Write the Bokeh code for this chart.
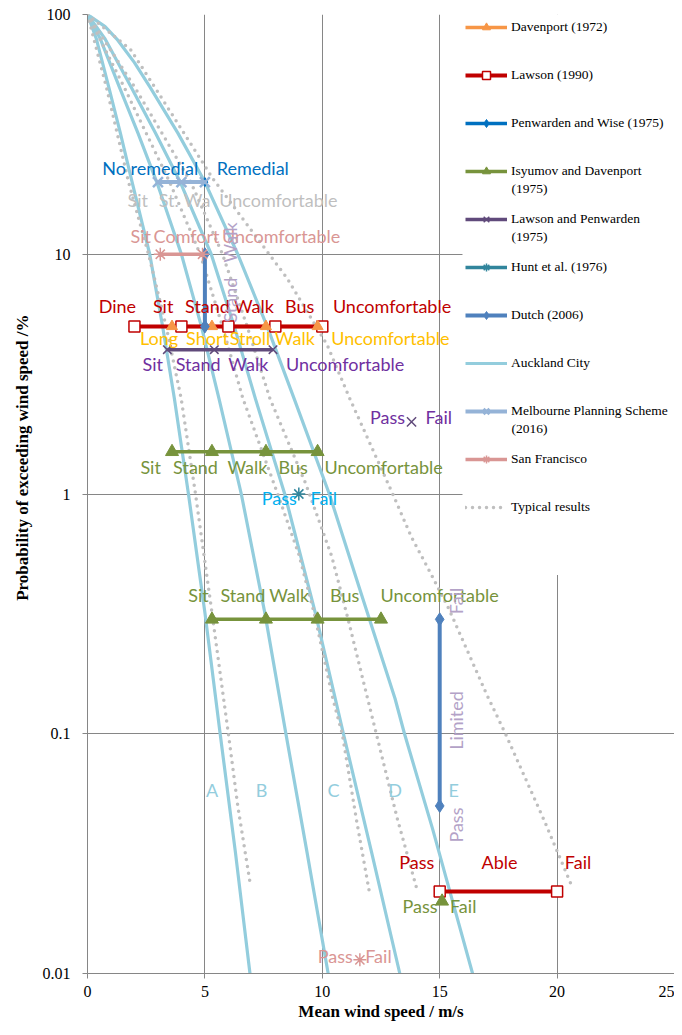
import math
from bokeh.plotting import figure
from bokeh.models import Range1d, FixedTicker, Legend, LegendItem, Label, BoxAnnotation, Title
from bokeh.core.properties import value
from bokeh.embed import file_html
from bokeh.resources import INLINE

# ---------------- data ----------------
x_ticks = [0, 5, 10, 15, 20, 25]
y_ticks = [0.01, 0.1, 1, 10, 100]
y_tick_labels = ["0.01", "0.1", "1", "10", "100"]

# Auckland City category boundaries (probability of exceedance %, mean wind speed m/s)
auck_p = [100, 79, 50, 32, 20, 10, 5, 2.5, 1, 0.32, 0.1, 0.032, 0.01]
auck1_x = [0, 0.38, 0.9, 1.4, 1.9, 2.65, 3.2, 3.7, 4.3, 5.0, 5.65, 6.3, 6.92]
auck2_x = [0, 0.55, 1.35, 2.15, 2.95, 4.0, 4.85, 5.6, 6.55, 7.55, 8.45, 9.35, 10.25]
auck3_x = [0, 0.75, 1.85, 2.9, 3.95, 5.27, 6.25, 7.15, 8.4, 9.7, 10.9, 12.1, 13.3]
auck4_p = [100, 89, 79, 63, 50, 32, 20, 10, 5, 2.5, 1, 0.4, 0.14, 0.1, 0.04, 0.02, 0.01]
auck4_x = [0, 0.75, 1.25, 2.0, 2.65, 3.85, 5.0, 6.4, 7.65, 8.8, 10.3, 11.6, 13.1, 13.5, 14.7, 15.55, 16.4]
auck_names = ["A", "B", "C", "D", "E"]

# Typical results
typ1_p = [100, 50, 20, 10, 5, 2.5, 1, 0.32, 0.144, 0.1, 0.05, 0.024]
typ1_x = [0, 0.8, 1.75, 2.6, 3.35, 3.99, 4.6, 5.3, 5.78, 6.0, 6.4, 6.92]
typ2_p = [100, 50, 20, 10, 5, 2.5, 1, 0.56, 0.32, 0.14, 0.1, 0.044, 0.022]
typ2_x = [0, 1.55, 3.5, 4.8, 5.75, 6.62, 8.1, 9.0, 9.65, 10.45, 10.85, 11.45, 12.0]
typ3_p = [100, 50, 20, 10, 5, 2.5, 1.1, 0.55, 0.3, 0.144, 0.1, 0.044, 0.023]
typ3_x = [0, 2.0, 4.4, 5.75, 6.8, 7.77, 9.3, 10.4, 11.1, 11.9, 12.3, 13.2, 14.0]
typ4_p = [100, 71.5, 50, 20.6, 9.9, 7.95, 4.2, 2.5, 1, 0.66, 0.45, 0.33, 0.146, 0.1, 0.0435, 0.0235]
typ4_x = [0, 1.83, 2.85, 5.35, 7.77, 8.5, 10.2, 11.17, 13.0, 13.8, 14.7, 15.4, 17.0, 17.8, 19.45, 20.6]

# Criteria
dav_x = [3.6, 5.3, 7.6, 9.8]
dav_p = [5, 5, 5, 5]
dav_labels = ["Long", "Short", "Stroll", "Walk", "Uncomfortable"]

law_x = [2, 4, 6, 8, 10]
law_p = [5, 5, 5, 5, 5]
law_labels = ["Dine", "Sit", "Stand", "Walk", "Bus", "Uncomfortable"]
law2_x = [15, 20]
law2_p = [0.022, 0.022]
law2_labels = ["Pass", "Able", "Fail"]

pw_x = [5]
pw_p = [20]
pw_labels = ["No remedial", "Remedial"]

isy1_x = [3.6, 5.3, 7.6, 9.8]
isy1_p = [1.5, 1.5, 1.5, 1.5]
isy1_labels = ["Sit", "Stand", "Walk", "Bus", "Uncomfortable"]
isy2_x = [5.3, 7.6, 9.8, 12.5]
isy2_p = [0.3, 0.3, 0.3, 0.3]
isy2_labels = ["Sit", "Stand", "Walk", "Bus", "Uncomfortable"]
isy3_x = [15.1]
isy3_p = [0.02]
isy3_labels = ["Pass", "Fail"]

lp_x = [3.4, 5.4, 7.9]
lp_p = [4, 4, 4]
lp_labels = ["Sit", "Stand", "Walk", "Uncomfortable"]
lp2_x = [13.8]
lp2_p = [2]
lp2_labels = ["Pass", "Fail"]

hunt_x = [9]
hunt_p = [1]
hunt_labels = ["Pass", "Fail"]

dutch1_x = [5, 5]
dutch1_p = [10, 5]
dutch1_labels = ["Stand", "Walk"]
dutch2_x = [15, 15]
dutch2_p = [0.3, 0.05]
dutch2_labels = ["Pass", "Limited", "Fail"]

melb_x = [3, 4, 5]
melb_p = [20, 20, 20]
melb_labels = ["Sit", "St.", "Wa", "Uncomfortable"]

sf_x = [3.1, 4.9]
sf_p = [10, 10]
sf_labels = ["Sit", "Comfort", "Uncomfortable"]
sf2_x = [11.6]
sf2_p = [0.0114]
sf2_labels = ["Pass", "Fail"]

legend_names = ["Davenport (1972)", "Lawson (1990)", "Penwarden and Wise (1975)",
                "Isyumov and Davenport", "Lawson and Penwarden", "Hunt et al. (1976)",
                "Dutch (2006)", "Auckland City", "Melbourne Planning Scheme",
                "San Francisco", "Typical results"]
legend_second_lines = ["(1975)", "(1975)", "(2016)"]

# ---------------- style ----------------
SERIF = "Liberation Serif"
ANN = "Lato"
ANN_SIZE = "18px"
GRID = "#868686"
W, H = 674, 1027
BL, BT, BB = 87, 14, 54          # borders left / top / bottom
FRAME_BOTTOM = H - BB

p = figure(width=W, height=H, x_range=Range1d(0, 25), y_range=Range1d(0.01, 100),
           y_axis_type="log", output_backend="svg", toolbar_location=None,
           min_border_left=BL, min_border_top=BT, min_border_right=0, min_border_bottom=BB)
p.outline_line_color = None
p.background_fill_color = "white"

p.xaxis.ticker = FixedTicker(ticks=x_ticks)
p.yaxis.ticker = FixedTicker(ticks=y_ticks)
p.xgrid.ticker = FixedTicker(ticks=x_ticks)
p.ygrid.ticker = FixedTicker(ticks=y_ticks)
p.yaxis.major_label_overrides = {t: s for t, s in zip(y_ticks, y_tick_labels)}
for g in (p.xgrid, p.ygrid):
    g.grid_line_color = GRID
    g.grid_line_width = 1
for ax in (p.xaxis, p.yaxis):
    ax.axis_line_color = GRID
    ax.major_tick_line_color = GRID
    ax.major_tick_out = 5
    ax.major_tick_in = 0
    ax.minor_tick_line_color = None
    ax.major_label_text_font = SERIF
    ax.major_label_text_font_size = "16px"
    ax.major_label_text_color = "black"
p.yaxis.major_label_standoff = 12
p.xaxis.major_label_standoff = 7
p.xaxis.axis_label = "Mean wind speed / m/s"
p.xaxis.axis_label_text_font = SERIF
p.xaxis.axis_label_text_font_style = "bold"
p.xaxis.axis_label_text_font_size = "17px"
p.xaxis.axis_label_text_color = "black"
p.xaxis.axis_label_standoff = 2

# y axis title, placed as a side title so that it can be shifted along the axis
p.add_layout(Title(text="Probability of exceeding wind speed /%", align="right", offset=300,
                   vertical_align="bottom", standoff=16, text_font=SERIF, text_font_style="bold",
                   text_font_size="17px", text_color="black"), "left")

# ---------------- curves ----------------
AUCK = "#93CDDD"
auck_r = None
for xs, ps in ((auck1_x, auck_p), (auck2_x, auck_p), (auck3_x, auck_p), (auck4_x, auck4_p)):
    r = p.line(xs, ps, line_color=AUCK, line_width=3.2, line_join="round")
    auck_r = auck_r or r

TYP = "#BFBFBF"
typ_r = None
for xs, ps in ((typ1_x, typ1_p), (typ2_x, typ2_p), (typ3_x, typ3_p), (typ4_x, typ4_p)):
    r = p.line(xs, ps, line_color=TYP, line_width=3.5, line_dash="0 7", line_cap="round")
    typ_r = typ_r or r

# Davenport
dav_l = p.line(dav_x, dav_p, line_color="#F79646", line_width=3.5)
# Lawson
law_l = p.line(law_x, law_p, line_color="#C00000", line_width=4)
law2_l = p.line(law2_x, law2_p, line_color="#C00000", line_width=4)
law_m = p.scatter(law_x, law_p, marker="square", size=11, fill_color="white", line_color="#C00000", line_width=1.5)
p.scatter(law2_x, law2_p, marker="square", size=11, fill_color="white", line_color="#C00000", line_width=1.5)
dav_m = p.scatter(dav_x, dav_p, marker="triangle", size=11, fill_color="#F79646", line_color="#F79646")
# Penwarden and Wise
pw_l = p.line(pw_x, pw_p, line_color="#0070C0", line_width=3.5)
pw_m = p.scatter(pw_x, pw_p, marker="diamond", size=9, fill_color="#0070C0", line_color="#0070C0")
# Isyumov and Davenport
isy_l = p.line(isy1_x, isy1_p, line_color="#77933C", line_width=3.5)
p.line(isy2_x, isy2_p, line_color="#77933C", line_width=3.5)
isy_m = p.scatter(isy1_x, isy1_p, marker="triangle", size=13, fill_color="#77933C", line_color="#77933C")
p.scatter(isy2_x, isy2_p, marker="triangle", size=13, fill_color="#77933C", line_color="#77933C")
p.scatter(isy3_x, isy3_p, marker="triangle", size=13, fill_color="#77933C", line_color="#77933C")
# Lawson and Penwarden
lp_l = p.line(lp_x, lp_p, line_color="#604A7B", line_width=3.5)
lp_m = p.scatter(lp_x, lp_p, marker="x", size=12, line_color="#604A7B", line_width=1.5)
p.scatter(lp2_x, lp2_p, marker="x", size=13, line_color="#604A7B", line_width=1.5)
# Hunt et al.
hunt_l = p.line(hunt_x, hunt_p, line_color="#31859C", line_width=3.5)
hunt_m = p.scatter(hunt_x, hunt_p, marker="asterisk", size=13, line_color="#31859C", line_width=1.5)
# Dutch
dutch_l = p.line(dutch1_x, dutch1_p, line_color="#4F81BD", line_width=4)
p.line(dutch2_x, dutch2_p, line_color="#4F81BD", line_width=4)
dutch_m = p.scatter(dutch1_x, dutch1_p, marker="diamond", size=13, fill_color="#4F81BD", line_color="#4F81BD")
p.scatter(dutch2_x, dutch2_p, marker="diamond", size=13, fill_color="#4F81BD", line_color="#4F81BD")
# Melbourne
melb_l = p.line(melb_x, melb_p, line_color="#95B3D7", line_width=4)
melb_m = p.scatter(melb_x, melb_p, marker="x", size=14, line_color="#95B3D7", line_width=2.5)
# San Francisco
sf_l = p.line(sf_x, sf_p, line_color="#D99694", line_width=3.5)
sf_m = p.scatter(sf_x, sf_p, marker="asterisk", size=13, line_color="#D99694", line_width=1.5)
p.scatter(sf2_x, sf2_p, marker="asterisk", size=13, line_color="#D99694", line_width=1.5)

# ---------------- data labels ----------------
def labels(texts, xs, ys, color, angle=0.0):
    p.text(x=xs, y=ys, text=texts, text_font=value(ANN), text_font_size=ANN_SIZE,
           text_color=color, text_align="center", text_baseline="middle", angle=angle)

labels(law_labels, [1.27, 3.22, 5.11, 7.09, 9.04, 12.97], [6.08] * 6, "#C00000")
labels(dav_labels, [3.05, 5.11, 6.92, 8.83, 12.9], [4.48] * 5, "#FFC000")
labels(lp_labels, [2.78, 4.71, 6.85, 10.97], [3.49] * 4, "#7030A0")
labels(lp2_labels, [12.78, 14.96], [2.1] * 2, "#7030A0")
labels(isy1_labels, [2.69, 4.6, 6.81, 8.76, 12.61], [1.29] * 5, "#77933C")
labels(hunt_labels, [8.17, 10.06], [0.96] * 2, "#00B0F0")
labels(isy2_labels, [4.73, 6.62, 8.59, 10.95, 15.0], [0.379] * 5, "#77933C")
labels(melb_labels, [2.14, 3.46, 4.67, 8.13], [16.9] * 4, "#BFBFBF")
labels(pw_labels, [2.67, 7.04], [22.8] * 2, "#0070C0")
labels(sf_labels, [2.27, 4.22, 8.25], [11.95] * 3, "#D99694")
labels(dutch1_labels, [6.05, 6.05], [6.44, 11.2], "#B3A2C7", angle=math.pi / 2)
labels(dutch2_labels, [15.71, 15.71, 15.71], [0.0416, 0.1136, 0.358], "#B3A2C7", angle=math.pi / 2)
labels(auck_names, [5.31, 7.41, 10.48, 13.1, 15.6], [0.058] * 5, AUCK)
labels(law2_labels, [14.02, 17.55, 20.89], [0.0292] * 3, "#C00000")
labels(isy3_labels, [14.16, 16.0], [0.0191] * 2, "#77933C")
labels(sf2_labels, [10.55, 12.39], [0.0118] * 2, "#DA9694")

# ---------------- legend ----------------
p.add_layout(BoxAnnotation(left=15.97, right=26, bottom=0.459, top=200, fill_color="white",
                           fill_alpha=1, line_color=None))
items = [
    LegendItem(label=legend_names[0], renderers=[dav_l, dav_m]),
    LegendItem(label=legend_names[1], renderers=[law_l, law_m]),
    LegendItem(label=legend_names[2], renderers=[pw_l, pw_m]),
    LegendItem(label=legend_names[3], renderers=[isy_l, isy_m]),
    LegendItem(label=legend_names[4], renderers=[lp_l, lp_m]),
    LegendItem(label=legend_names[5], renderers=[hunt_l, hunt_m]),
    LegendItem(label=legend_names[6], renderers=[dutch_l, dutch_m]),
    LegendItem(label=legend_names[7], renderers=[auck_r]),
    LegendItem(label=legend_names[8], renderers=[melb_l, melb_m]),
    LegendItem(label=legend_names[9], renderers=[sf_l, sf_m]),
    LegendItem(label=legend_names[10], renderers=[typ_r]),
]
LEG_LEFT, LEG_TOP_ITEM, GW, LS = 465, 17, 42, 4
legend = Legend(items=items, location=(LEG_LEFT - BL - 5, FRAME_BOTTOM - (LEG_TOP_ITEM + 500 + 5)),
                orientation="vertical", glyph_width=GW, glyph_height=20, label_height=20,
                spacing=28, padding=5, margin=0, label_standoff=LS, label_text_font=SERIF,
                label_text_font_size="13.5px", label_text_color="black",
                background_fill_alpha=0, border_line_alpha=0)
p.add_layout(legend)
for txt, item_index in zip(legend_second_lines, (3, 4, 8)):
    y_page = LEG_TOP_ITEM + 10 + 48 * item_index + 17
    p.add_layout(Label(x=LEG_LEFT + GW + LS - BL, y=FRAME_BOTTOM - y_page, x_units="screen", y_units="screen",
                       text=txt, text_align="left", text_baseline="middle",
                       text_font=SERIF, text_font_size="13.5px", text_color="black"))

open("out.html", "w").write(file_html(p, INLINE))
